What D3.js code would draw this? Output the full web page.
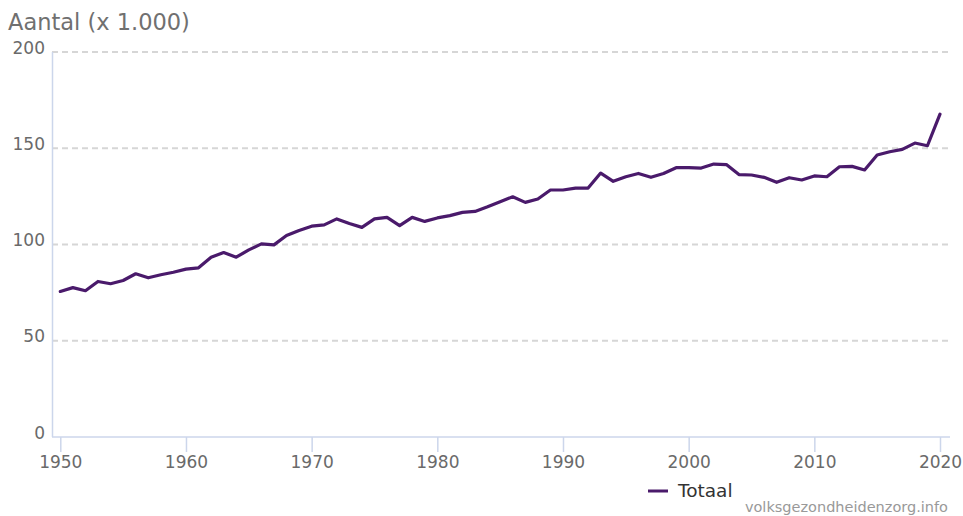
<!DOCTYPE html>
<html>
<head>
<meta charset="utf-8">
<script src="https://cdn.jsdelivr.net/npm/d3@7"></script>
<style>
  body { margin: 0; background: #fff; }
  svg { font-family: "DejaVu Sans", Verdana, sans-serif; }
</style>
</head>
<body>
<div id="plot"></div>
<script>
// data (x 1.000)
const years = [1950, 1951, 1952, 1953, 1954, 1955, 1956, 1957, 1958, 1959,
  1960, 1961, 1962, 1963, 1964, 1965, 1966, 1967, 1968, 1969,
  1970, 1971, 1972, 1973, 1974, 1975, 1976, 1977, 1978, 1979,
  1980, 1981, 1982, 1983, 1984, 1985, 1986, 1987, 1988, 1989,
  1990, 1991, 1992, 1993, 1994, 1995, 1996, 1997, 1998, 1999,
  2000, 2001, 2002, 2003, 2004, 2005, 2006, 2007, 2008, 2009,
  2010, 2011, 2012, 2013, 2014, 2015, 2016, 2017, 2018, 2019, 2020];
const totaal = [75.6, 77.6, 76, 80.8, 79.6, 81.3, 84.8, 82.7, 84.3, 85.6,
  87.2, 87.9, 93.4, 95.8, 93.4, 97.2, 100.3, 99.8, 104.7, 107.3,
  109.5, 110.2, 113.3, 110.9, 108.9, 113.3, 114.1, 109.8, 114.1, 112,
  113.8, 115, 116.7, 117.2, 119.6, 122.2, 124.8, 121.9, 123.6, 128.3,
  128.3, 129.3, 129.3, 137.1, 132.8, 135.2, 136.9, 134.9, 136.9, 139.9,
  139.9, 139.7, 141.8, 141.5, 136.3, 136.1, 134.9, 132.3, 134.7, 133.5,
  135.6, 135.2, 140.4, 140.6, 138.7, 146.5, 148.2, 149.4, 152.7, 151.3, 167.7];
const yTicks = [0, 50, 100, 150, 200];
const xTicks = [1950, 1960, 1970, 1980, 1990, 2000, 2010, 2020];
const seriesName = "Totaal";

const w = 963;
const h = 516;

const svg = d3.select("div#plot")
  .append("svg")
    .attr("width", w)
    .attr("height", h);

const xScale = d3.scaleLinear()
  .domain([1950, 2020])
  .range([60.3, 940]);

const yScale = d3.scaleLinear()
  .domain([0, 200])
  .range([437, 52]);

// title
svg.append("text")
  .attr("x", 8)
  .attr("y", 30)
  .attr("fill", "#707070")
  .style("font-size", "22.5px")
  .text("Aantal (x 1.000)");

// gridlines
svg.append("g")
  .selectAll("line")
  .data(yTicks.filter(d => d > 0))
  .enter()
  .append("line")
    .attr("x1", 52)
    .attr("x2", 950)
    .attr("y1", d => yScale(d))
    .attr("y2", d => yScale(d))
    .attr("stroke", "#d6d6d6")
    .attr("stroke-width", 2)
    .attr("stroke-dasharray", "6,4");

// y tick labels
svg.append("g")
  .selectAll("text")
  .data(yTicks)
  .enter()
  .append("text")
    .attr("x", 45)
    .attr("y", d => yScale(d) + 1.5)
    .attr("text-anchor", "end")
    .attr("fill", "#6a6a6a")
    .style("font-size", "17px")
    .text(d => d);

// y axis line
svg.append("line")
  .attr("x1", 52.5).attr("x2", 52.5)
  .attr("y1", 52).attr("y2", yScale(0))
  .attr("stroke", "#ccd6eb")
  .attr("stroke-width", 1.5);

// x axis
const xAxis = d3.axisBottom(xScale)
  .tickValues(xTicks)
  .tickFormat(d3.format("d"))
  .tickSize(15)
  .tickPadding(4);

const gx = svg.append("g")
  .attr("transform", `translate(0, ${yScale(0)})`)
  .call(xAxis);
gx.select(".domain").remove();
gx.append("line")
  .attr("x1", 52).attr("x2", 950)
  .attr("stroke", "#ccd6eb")
  .attr("stroke-width", 1.5);
gx.selectAll(".tick line").attr("stroke", "#ccd6eb").attr("stroke-width", 1.5);
gx.selectAll(".tick text")
  .attr("fill", "#6a6a6a")
  .style("font-size", "17px")
  .style("font-family", "DejaVu Sans, Verdana, sans-serif");

// line
const line = d3.line()
  .x((d, i) => xScale(years[i]))
  .y(d => yScale(d));

svg.append("path")
  .datum(totaal)
  .attr("d", line)
  .attr("fill", "none")
  .attr("stroke", "#4a1a6b")
  .attr("stroke-width", 3.2)
  .attr("stroke-linejoin", "round")
  .attr("stroke-linecap", "round");

// legend
svg.append("line")
  .attr("x1", 648).attr("x2", 668)
  .attr("y1", 491).attr("y2", 491)
  .attr("stroke", "#4a1a6b")
  .attr("stroke-width", 3);
svg.append("text")
  .attr("x", 678)
  .attr("y", 497)
  .attr("fill", "#333")
  .style("font-size", "18.5px")
  .text(seriesName);

// source
svg.append("text")
  .attr("x", 948)
  .attr("y", 512)
  .attr("text-anchor", "end")
  .attr("fill", "#999")
  .style("font-size", "14.5px")
  .text("volksgezondheidenzorg.info");
</script>
</body>
</html>
